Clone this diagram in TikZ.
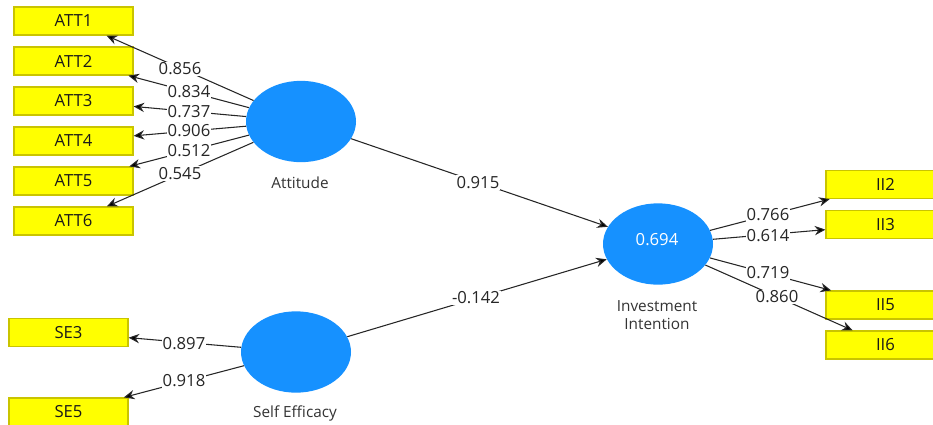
\documentclass[tikz,border=0pt]{standalone}
\usepackage{fontspec}
\setmainfont{Open Sans}
\usetikzlibrary{shapes.geometric,arrows.meta}
\definecolor{lvblue}{HTML}{1691FF}
\definecolor{mvyellow}{HTML}{FFFF00}
\definecolor{mvborder}{HTML}{C9C400}
\begin{document}
\begin{tikzpicture}[x=0.75pt,y=-0.75pt,
  indicator/.style={draw=mvborder, fill=mvyellow, line width=0.9pt,
    minimum width=89.25pt, minimum height=21pt, inner sep=0pt,
    font=\fontsize{12.5}{14}\selectfont, text=black!90},
  latent/.style={ellipse, fill=lvblue, draw=none, minimum width=82.5pt,
    minimum height=61pt, inner sep=0pt},
  link/.style={draw=black!85, line width=0.8pt,
    -{Stealth[length=8pt,width=7pt,fill=black]}},
  coef/.style={fill=white, inner sep=0.8pt,
    font=\fontsize{12.5}{14}\selectfont, text=black!85},
  caption/.style={font=\fontsize{11.5}{13.5}\selectfont, text=black!80,
    align=center}
]
\useasboundingbox (0,0) rectangle (933,425);
\clip (0,0) rectangle (933,425);

% latent variables
\node[latent] (att) at (301,121.5) {};
\node[latent] (se)  at (296,352) {};
\node[latent] (ii)  at (658,244) {};
\node[font=\fontsize{12.5}{14}\selectfont, text=white] (r2) at (657,240) {0.694};

\node[caption] (attcap) at (300,183) {Attitude};
\node[caption] (secap)  at (295,413) {Self Efficacy};
\node[caption] (iicap)  at (657,315) {Investment\\Intention};

% indicators
\node[indicator] (a1) at (73.5,21)  {ATT1};
\node[indicator] (a2) at (73.5,61)  {ATT2};
\node[indicator] (a3) at (73.5,101) {ATT3};
\node[indicator] (a4) at (73.5,141) {ATT4};
\node[indicator] (a5) at (73.5,181) {ATT5};
\node[indicator] (a6) at (73.5,221) {ATT6};

\node[indicator] (s3) at (68.5,332.5) {SE3};
\node[indicator] (s5) at (68.5,412)   {SE5};

\node[indicator] (i2) at (885.5,184.5) {II2};
\node[indicator] (i3) at (885.5,224.5) {II3};
\node[indicator] (i5) at (885.5,305)   {II5};
\node[indicator] (i6) at (885.5,345)   {II6};

% outer loadings
\draw[link] (att) -- (a1);
\draw[link] (att) -- (a2);
\draw[link] (att) -- (a3);
\draw[link] (att) -- (a4);
\draw[link] (att) -- (a5);
\draw[link] (att) -- (a6);
\draw[link] (se) -- (s3);
\draw[link] (se) -- (s5);
\draw[link] (ii) -- (i2);
\draw[link] (ii) -- (i3);
\draw[link] (ii) -- (i5);
\draw[link] (ii) -- (i6);

% structural paths
\draw[link] (att) -- (ii);
\draw[link] (se) -- (ii);

% coefficients
\node[coef] (c1) at (180,69)    {0.856};
\node[coef] (c2) at (189,92)    {0.834};
\node[coef] (c3) at (189,112)   {0.737};
\node[coef] (c4) at (189,130.5) {0.906};
\node[coef] (c5) at (189,151)   {0.512};
\node[coef] (c6) at (180,173.5) {0.545};
\node[coef] (c7) at (184,344)   {0.897};
\node[coef] (c8) at (184,381)   {0.918};
\node[coef] (c9) at (478,182.5) {0.915};
\node[coef] (c10) at (476,298)  {-0.142};
\node[coef] (c11) at (768,215)  {0.766};
\node[coef] (c12) at (768,236)  {0.614};
\node[coef] (c13) at (768,273)  {0.719};
\node[coef] (c14) at (777,297)  {0.860};
\end{tikzpicture}
\end{document}
